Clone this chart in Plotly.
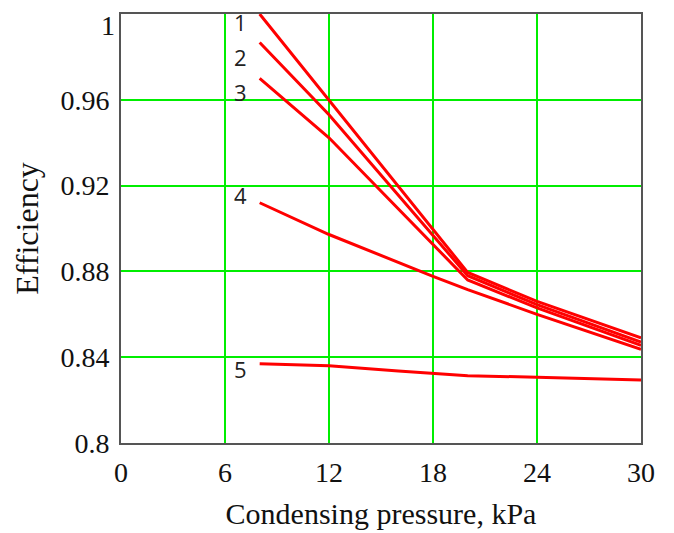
import plotly.graph_objects as go

# Data
pressure_123 = [8, 12, 20, 24, 30]
eff_1 = [1.000, 0.9598, 0.8795, 0.8660, 0.8490]
eff_2 = [0.9867, 0.9530, 0.8780, 0.8645, 0.8470]
eff_3 = [0.9700, 0.9423, 0.8760, 0.8630, 0.8455]

pressure_4 = [8, 12, 18, 20, 24, 30]
eff_4 = [0.9120, 0.8972, 0.8777, 0.8715, 0.8600, 0.8437]

pressure_5 = [8, 12, 16, 20, 24, 30]
eff_5 = [0.8370, 0.8360, 0.8336, 0.8313, 0.8307, 0.8294]

curve_labels = ["1", "2", "3", "4", "5"]
label_y = [0.9963, 0.980, 0.9637, 0.9158, 0.8345]

x_ticks = [0, 6, 12, 18, 24, 30]
y_ticks = [0.8, 0.84, 0.88, 0.92, 0.96, 1.0]
y_ticktext = ["0.8", "0.84", "0.88", "0.92", "0.96", "1"]

series = [
    (pressure_123, eff_1),
    (pressure_123, eff_2),
    (pressure_123, eff_3),
    (pressure_4, eff_4),
    (pressure_5, eff_5),
]

serif = "Liberation Serif, Times New Roman, serif"

fig = go.Figure()
for xs, ys in series:
    fig.add_trace(go.Scatter(x=xs, y=ys, mode="lines",
                             line=dict(color="#ff0000", width=3),
                             showlegend=False, hoverinfo="skip"))

for lab, ly in zip(curve_labels, label_y):
    fig.add_annotation(x=6.9, y=ly, text=lab, showarrow=False,
                       xref="x", yref="y", xanchor="center", yanchor="middle",
                       font=dict(family="Open Sans, Noto Sans, sans-serif", size=22, color="#222"))

# The top tick label sits just inside the top edge (as in the reference)
top_ticktext = [t if v != y_ticks[-1] else "" for v, t in zip(y_ticks, y_ticktext)]
fig.add_annotation(x=0, y=y_ticks[-1], xref="paper", yref="y", text=y_ticktext[-1],
                   showarrow=False, xanchor="right", yanchor="top", xshift=-4, yshift=6,
                   font=dict(family=serif, size=28, color="#111"))

axis_common = dict(showline=True, linecolor="#555", linewidth=2, mirror=True,
                   showgrid=True, gridcolor="#00ee00", gridwidth=1.5,
                   zeroline=False, ticks="", ticklabeloverflow="allow",
                   tickfont=dict(family=serif, size=28, color="#111"))

fig.update_xaxes(range=[0, 30], tickvals=x_ticks, ticktext=[str(v) for v in x_ticks],
                 ticklabelstandoff=3,
                 title=dict(text="Condensing pressure, kPa", standoff=16,
                            font=dict(family=serif, size=30, color="#111")),
                 **axis_common)
fig.update_yaxes(range=[0.8, 1.0], tickvals=y_ticks, ticktext=top_ticktext,
                 ticklabelstandoff=4,
                 title=dict(text="Efficiency", standoff=12,
                            font=dict(family=serif, size=32, color="#111")),
                 **axis_common)

# The page adds an 8px body margin, so the margins are shifted by 8px
fig.update_layout(width=674, height=533,
                  margin=dict(l=113, r=41, t=6, b=98, autoexpand=False),
                  paper_bgcolor="white", plot_bgcolor="white")

fig.write_html("out.html")
